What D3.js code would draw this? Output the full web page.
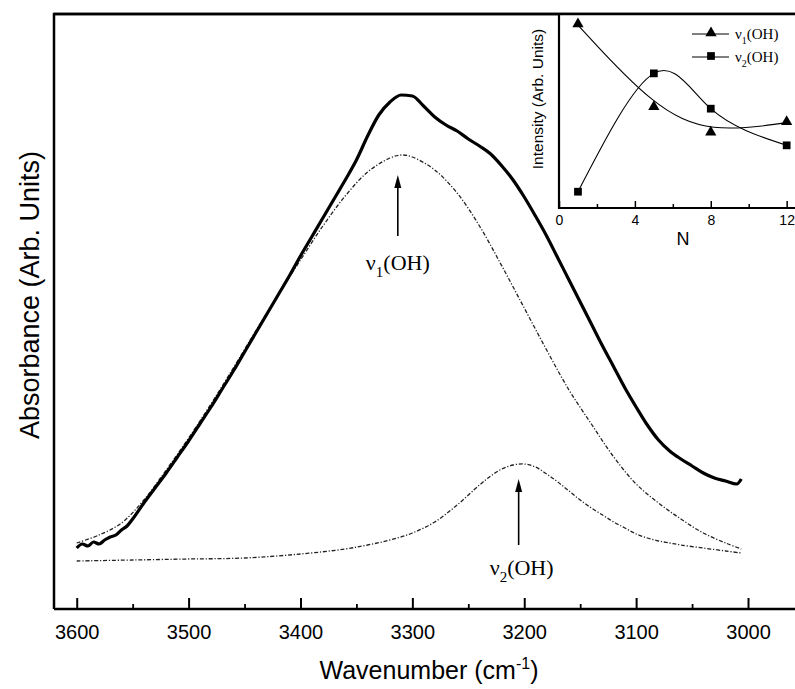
<!DOCTYPE html>
<html lang="en">
<head>
<meta charset="utf-8">
<title>OH stretch absorbance</title>
<script src="https://cdn.jsdelivr.net/npm/d3@7/dist/d3.min.js"></script>
<style>
  body { margin: 0; background: #fff; }
  svg { display: block; }
</style>
</head>
<body>
<script>
// ---- data ----
// measured spectrum: [wavenumber cm-1, absorbance arb.]
var spectrum = [
  [3600,0.122],[3595,0.130],[3590,0.126],[3585,0.134],[3580,0.130],[3575,0.138],
  [3570,0.144],[3565,0.148],[3560,0.158],[3555,0.166],[3550,0.180],[3540,0.212],
  [3530,0.242],[3520,0.272],[3510,0.304],[3500,0.336],[3490,0.370],[3480,0.404],
  [3470,0.440],[3460,0.476],[3450,0.514],[3440,0.552],[3430,0.590],[3420,0.628],
  [3410,0.666],[3400,0.706],[3390,0.744],[3380,0.782],[3370,0.820],[3360,0.858],
  [3350,0.898],[3340,0.946],[3330,0.988],[3320,1.014],[3310,1.028],[3300,1.026],
  [3290,1.006],[3280,0.984],[3270,0.968],[3260,0.956],[3250,0.940],[3240,0.926],
  [3230,0.910],[3220,0.886],[3210,0.858],[3200,0.824],[3190,0.786],[3180,0.746],
  [3170,0.702],[3160,0.658],[3150,0.614],[3140,0.570],[3130,0.526],[3120,0.484],
  [3110,0.442],[3100,0.404],[3090,0.368],[3080,0.338],[3070,0.316],[3060,0.300],
  [3050,0.286],[3040,0.272],[3030,0.262],[3020,0.256],[3010,0.250],[3006,0.260]
];

// fitted nu1(OH) component
var nu1Band = [
  [3600,0.132],[3580,0.148],[3560,0.172],[3540,0.218],[3520,0.278],[3500,0.342],
  [3480,0.410],[3460,0.482],[3440,0.556],[3420,0.628],[3400,0.698],[3380,0.766],
  [3360,0.826],[3340,0.874],[3320,0.902],[3310,0.908],[3300,0.904],[3280,0.878],
  [3260,0.832],[3240,0.766],[3220,0.686],[3200,0.602],[3180,0.518],[3160,0.438],
  [3140,0.370],[3120,0.304],[3100,0.250],[3080,0.212],[3060,0.180],[3040,0.152],
  [3020,0.132],[3006,0.120]
];

// fitted nu2(OH) component
var nu2Band = [
  [3600,0.096],[3550,0.098],[3500,0.100],[3450,0.102],[3400,0.110],[3360,0.120],
  [3340,0.128],[3320,0.138],[3300,0.152],[3280,0.174],[3260,0.208],[3240,0.248],
  [3230,0.266],[3220,0.280],[3210,0.288],[3200,0.290],[3190,0.284],[3180,0.270],
  [3170,0.254],[3160,0.236],[3150,0.218],[3140,0.202],[3130,0.188],[3120,0.174],
  [3110,0.162],[3100,0.150],[3090,0.142],[3080,0.136],[3070,0.132],[3060,0.128],
  [3040,0.122],[3020,0.116],[3006,0.112]
];

var majorTicks = [3600, 3500, 3400, 3300, 3200, 3100, 3000];
var minorTicks = [3550, 3450, 3350, 3250, 3150, 3050];

// where the band labels point
var nu1Peak = 3313, nu2Peak = 3205;

// inset: intensity vs N
var insetN = [1, 5, 8, 12];
var insetNu1 = [0.943, 0.517, 0.385, 0.440];
var insetNu2 = [0.084, 0.694, 0.512, 0.323];
var insetTicks = [0, 4, 8, 12];
var insetMinor = [2, 6, 10];

// ---- layout ----
var w = 795, h = 689;
var plotLeft = 54, plotTop = 14, plotBottom = 609, plotRight = 797;
var sans = "'Liberation Sans', Arial, sans-serif";
var serif = "'Liberation Serif', 'Times New Roman', serif";

var svg = d3.select("body").append("svg")
  .attr("width", w).attr("height", h);

var xScale = d3.scaleLinear().domain([3620.3, 2958]).range([plotLeft, 795]);
var yScale = d3.scaleLinear().domain([0, 1.19]).range([plotBottom, plotTop]);

// frame
svg.append("path")
  .attr("d", "M" + plotLeft + "," + plotBottom + "V" + plotTop + "H" + plotRight)
  .attr("fill", "none").attr("stroke", "#000").attr("stroke-width", 2.5);

// bottom axis, ticks pointing inward
var xAxis = d3.axisBottom(xScale).tickValues(majorTicks).tickSize(-11).tickPadding(16)
  .tickFormat(d3.format("d"));
var gx = svg.append("g").attr("transform", "translate(0," + plotBottom + ")").call(xAxis);
gx.select(".domain").attr("stroke-width", 2.5).attr("d", "M" + plotLeft + ",0H" + plotRight);
gx.selectAll(".tick line").attr("stroke-width", 2);
gx.selectAll(".tick text").attr("font-family", sans).attr("font-size", 20).attr("fill", "#000");

var gxm = svg.append("g").attr("transform", "translate(0," + plotBottom + ")")
  .call(d3.axisBottom(xScale).tickValues(minorTicks).tickSize(-5).tickFormat(""));
gxm.select(".domain").remove();
gxm.selectAll(".tick line").attr("stroke-width", 1.8);

// axis titles
var xt = svg.append("text")
  .attr("x", 429).attr("y", 679).attr("text-anchor", "middle")
  .attr("font-family", sans).attr("font-size", 25).text("Wavenumber (cm");
xt.append("tspan").attr("font-size", 16).attr("dy", -10).text("-1");
xt.append("tspan").attr("dy", 10).text(")");

svg.append("text")
  .attr("transform", "translate(39,295) rotate(-90)")
  .attr("text-anchor", "middle")
  .attr("font-family", sans).attr("font-size", 27)
  .text("Absorbance (Arb. Units)");

// curves
var bandLine = d3.line()
  .x(function(d) { return xScale(d[0]); })
  .y(function(d) { return yScale(d[1]); })
  .curve(d3.curveCatmullRom.alpha(0.5));
var specLine = d3.line()
  .x(function(d) { return xScale(d[0]); })
  .y(function(d) { return yScale(d[1]); })
  .curve(d3.curveMonotoneX);

svg.append("path").datum(nu2Band).attr("d", bandLine)
  .attr("fill", "none").attr("stroke", "#222").attr("stroke-width", 1.3)
  .attr("stroke-dasharray", "4,1.8,1.2,1.8");
svg.append("path").datum(nu1Band).attr("d", bandLine)
  .attr("fill", "none").attr("stroke", "#222").attr("stroke-width", 1.3)
  .attr("stroke-dasharray", "4,1.8,1.2,1.8");
svg.append("path").datum(spectrum).attr("d", specLine)
  .attr("fill", "none").attr("stroke", "#000").attr("stroke-width", 3.2)
  .attr("stroke-linejoin", "round");

// arrows and band labels
function arrow(x, y1, y2) {
  svg.append("line").attr("x1", x).attr("x2", x).attr("y1", y1 + 10).attr("y2", y2)
    .attr("stroke", "#000").attr("stroke-width", 1.6);
  svg.append("path")
    .attr("d", "M" + x + "," + y1 + "L" + (x - 3.5) + "," + (y1 + 13) + "L" + (x + 3.5) + "," + (y1 + 13) + "Z")
    .attr("fill", "#000");
}
function bandLabel(g, x, y, sub, size, subSize, anchor) {
  var t = g.append("text").attr("x", x).attr("y", y)
    .attr("font-family", serif).attr("font-size", size)
    .attr("text-anchor", anchor || "start").text("ν");
  t.append("tspan").attr("font-size", subSize).attr("dy", size * 0.3).text(sub);
  t.append("tspan").attr("dy", -size * 0.3).text("(OH)");
  return t;
}
var ax1 = xScale(nu1Peak), ax2 = xScale(nu2Peak);
arrow(ax1, 175, 236);
bandLabel(svg, ax1, 270, "1", 22, 15, "middle");
arrow(ax2, 479, 545);
bandLabel(svg, ax2 + 3, 575, "2", 22, 15, "middle");

// ---- inset ----
var iLeft = 559, iBottom = 208;
var ix = d3.scaleLinear().domain([0, 12.44]).range([iLeft, 795]);
var iy = d3.scaleLinear().domain([0, 1]).range([iBottom, plotTop]);

var inset = svg.append("g");
inset.append("rect").attr("x", iLeft).attr("y", plotTop).attr("width", 795 - iLeft)
  .attr("height", iBottom - plotTop).attr("fill", "#fff");
inset.append("path")
  .attr("d", "M" + iLeft + "," + plotTop + "V" + iBottom + "H" + plotRight)
  .attr("fill", "none").attr("stroke", "#000").attr("stroke-width", 2.2);
svg.append("line").attr("x1", plotLeft).attr("x2", plotRight).attr("y1", plotTop).attr("y2", plotTop)
  .attr("stroke", "#000").attr("stroke-width", 2.5);

var gi = inset.append("g").attr("transform", "translate(0," + iBottom + ")")
  .call(d3.axisBottom(ix).tickValues(insetTicks).tickSize(-7).tickPadding(7));
gi.select(".domain").remove();
gi.selectAll(".tick line").attr("stroke-width", 1.5);
gi.selectAll(".tick text").attr("font-family", sans).attr("font-size", 14).attr("fill", "#000");
var gim = inset.append("g").attr("transform", "translate(0," + iBottom + ")")
  .call(d3.axisBottom(ix).tickValues(insetMinor).tickSize(-4).tickFormat(""));
gim.select(".domain").remove();
gim.selectAll(".tick line").attr("stroke-width", 1.5);

inset.append("text").attr("x", 683).attr("y", 245).attr("text-anchor", "middle")
  .attr("font-family", sans).attr("font-size", 18).text("N");
inset.append("text")
  .attr("transform", "translate(543,99) rotate(-90)")
  .attr("text-anchor", "middle").attr("font-family", sans).attr("font-size", 15.5)
  .text("Intensity (Arb. Units)");

var nu1Pts = insetN.map(function(n, i) { return [n, insetNu1[i]]; });
var nu2Pts = insetN.map(function(n, i) { return [n, insetNu2[i]]; });
var iline = d3.line().x(function(d) { return ix(d[0]); }).y(function(d) { return iy(d[1]); });

inset.append("path").datum(nu1Pts).attr("d", iline.curve(d3.curveBasis))
  .attr("fill", "none").attr("stroke", "#000").attr("stroke-width", 1.1);
inset.append("path").datum(nu2Pts).attr("d", iline.curve(d3.curveNatural))
  .attr("fill", "none").attr("stroke", "#000").attr("stroke-width", 1.1);

var tri = d3.symbol().type(d3.symbolTriangle).size(55);
var sq = d3.symbol().type(d3.symbolSquare).size(60);
inset.selectAll(".tri").data(nu1Pts).enter().append("path")
  .attr("d", tri).attr("fill", "#000")
  .attr("transform", function(d) { return "translate(" + ix(d[0]) + "," + (iy(d[1]) - 1) + ")"; });
inset.selectAll(".sq").data(nu2Pts).enter().append("path")
  .attr("d", sq).attr("fill", "#000")
  .attr("transform", function(d) { return "translate(" + ix(d[0]) + "," + iy(d[1]) + ")"; });

// legend
var legend = [{sym: tri, y: 34, sub: "1"}, {sym: sq, y: 57, sub: "2"}];
legend.forEach(function(l) {
  inset.append("line").attr("x1", 692).attr("x2", 729).attr("y1", l.y).attr("y2", l.y)
    .attr("stroke", "#000").attr("stroke-width", 1.1);
  inset.append("path").attr("d", l.sym).attr("fill", "#000")
    .attr("transform", "translate(711," + (l.y - 1) + ")");
  bandLabel(inset, 735, l.y + 5, l.sub, 15, 10);
});
</script>
</body>
</html>
